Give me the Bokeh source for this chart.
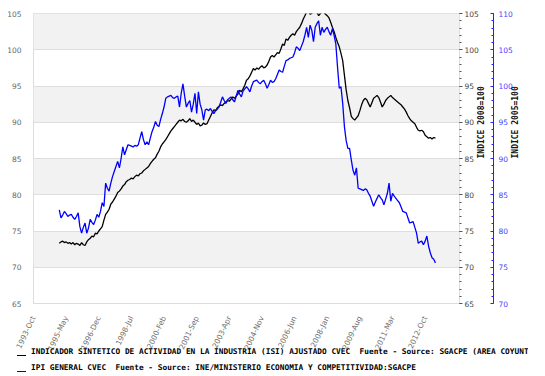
import math
import html
import pandas as pd
from bokeh.plotting import figure
from bokeh.layouts import column
from bokeh.models import (Range1d, LinearAxis, FixedTicker, SingleIntervalTicker,
                          ColumnDataSource, Div)
from bokeh.embed import file_html
from bokeh.resources import INLINE

# ---------------- data ----------------
axis_origin = "1993-10"
data_start = "1995-01"

tick_labels = ["1993-Oct", "1995-May", "1996-Dec", "1998-Jul", "2000-Feb", "2001-Sep",
               "2003-Apr", "2004-Nov", "2006-Jun", "2008-Jan", "2009-Aug", "2011-Mar",
               "2012-Oct"]

isi = [
    73.3, 73.5, 73.6, 73.4, 73.5, 73.3, 73.4, 73.2, 73.4, 73.1, 73.3, 73.2,
    73.0, 73.4, 73.1, 73.0, 73.5, 73.8, 74.0, 74.3, 74.2, 74.7, 74.6, 75.0,
    75.3, 75.6, 76.5, 77.3, 77.6, 78.0, 78.7, 79.0, 79.4, 79.8, 80.3, 80.5,
    80.8, 81.2, 81.4, 81.8, 82.0, 82.1, 82.3, 82.2, 82.5, 82.7, 82.6, 82.9,
    83.0, 83.3, 83.5, 83.7, 83.9, 84.3, 84.6, 84.9, 85.1, 85.6, 86.0, 86.6,
    87.0, 87.3, 87.6, 88.0, 88.4, 88.8, 89.1, 89.4, 89.7, 90.0, 90.3, 90.2,
    90.4, 90.1, 90.0, 90.2, 90.5, 90.1, 90.3, 90.0, 89.7, 89.9, 89.5, 89.6,
    89.9, 89.7, 89.8, 90.3, 90.8, 91.3, 91.7, 91.6, 92.0, 92.2, 92.4, 92.3,
    92.6, 92.8, 93.0, 92.9, 93.2, 93.5, 93.3, 93.6, 93.9, 94.4, 94.2, 94.6,
    95.1, 95.8, 96.0, 96.4, 96.9, 97.4, 97.2, 97.5, 97.3, 97.6, 97.8, 97.5,
    97.6, 97.9, 98.4, 99.0, 99.2, 99.0, 99.3, 99.6, 99.5, 100.1, 100.8, 100.6,
    101.5, 101.3, 101.7, 102.0, 102.2, 102.0, 102.5, 102.8, 103.1, 103.6, 104.2, 104.7,
    105.2, 105.6, 104.9, 105.0, 105.7, 106.1, 105.2, 104.7, 105.0, 105.3, 105.2, 104.9,
    104.7, 104.4, 103.8, 103.1, 102.5, 101.7, 101.0, 100.4, 99.5, 98.5, 96.5, 94.5,
    93.0, 92.0, 90.8, 90.5, 90.3, 90.6, 90.9, 91.6, 92.4, 93.0, 93.3, 93.1,
    92.6, 92.1, 92.7, 93.3, 93.5, 93.7, 93.4, 92.8, 92.1, 92.5, 93.0, 93.3,
    93.5, 93.7, 93.4, 93.2, 93.0, 92.8, 92.6, 92.4, 92.1, 91.8, 91.4, 90.9,
    90.5, 90.2, 90.0, 89.8, 89.3, 88.9, 88.8, 88.9, 88.7, 88.2, 88.0, 87.8,
    87.9, 87.7, 87.9, 87.8,
]

ipi = [
    82.9, 81.8, 82.2, 82.7, 82.4, 82.0, 82.2, 82.3, 81.9, 81.6, 82.0, 82.5,
    80.6, 79.7, 80.5, 81.1, 79.7, 80.4, 81.6, 81.2, 80.9, 81.5, 82.3, 81.9,
    82.7, 83.9, 83.4, 86.6, 85.9, 85.5, 86.6, 87.5, 88.2, 88.9, 89.6, 88.7,
    90.0, 91.6, 90.5, 91.2, 91.9, 91.8, 91.7, 91.6, 91.8, 91.7, 91.9, 92.8,
    93.7, 92.6, 91.9, 92.3, 91.9, 92.8, 93.7, 94.3, 95.1, 94.6, 94.4, 95.4,
    96.2, 97.1, 98.3, 98.5, 98.6, 98.7, 98.4, 98.3, 98.5, 98.6, 97.1, 99.0,
    100.3, 98.6, 97.1, 97.6, 98.0, 96.4, 97.5, 99.0, 96.2, 99.2, 97.5, 96.7,
    95.3, 96.7, 96.8, 96.6, 96.9, 96.5, 96.2, 96.6, 96.8, 97.1, 97.8, 98.5,
    98.0, 97.6, 98.1, 98.3, 98.5, 98.1, 97.8, 98.6, 99.4, 98.9, 98.5, 99.3,
    99.6, 99.9, 99.6, 99.2, 100.0, 100.6, 100.7, 100.8, 100.5, 100.3, 100.6, 100.8,
    100.3, 99.7, 100.2, 100.8, 100.5, 100.6, 101.0, 101.6, 102.2, 102.0, 101.9, 102.7,
    103.5, 103.6, 103.8, 103.9, 104.0, 104.6, 105.4, 105.2, 104.9, 105.5, 106.1, 107.0,
    108.1, 106.7, 108.4, 107.7, 106.1, 108.1, 108.6, 109.0, 107.0, 108.1, 107.4, 107.8,
    108.1, 107.5, 107.0, 107.9, 107.0, 105.8, 102.6, 99.7, 99.9, 97.6, 94.4, 92.5,
    91.4, 91.4, 89.8, 88.4, 87.7, 88.7, 85.9, 85.8, 85.7, 85.6, 85.8, 85.7,
    85.2, 84.8, 84.1, 83.4, 84.0, 84.5, 85.0, 84.6, 84.3, 83.6, 84.4, 85.2,
    86.6, 84.1, 85.2, 84.8, 84.5, 84.2, 83.9, 83.3, 82.7, 82.6, 82.5, 81.8,
    81.1, 81.2, 81.3, 80.5, 79.7, 78.3, 78.5, 78.6, 78.1, 78.6, 79.3, 77.9,
    77.0, 76.3, 76.1, 75.6,
]

label_isi = ("INDICADOR SINTETICO DE ACTIVIDAD EN LA INDUSTRIA (ISI) AJUSTADO CVEC  "
             "Fuente - Source: SGACPE (AREA COYUNTURA)")
label_ipi = ("IPI GENERAL CVEC  Fuente - Source: INE/MINISTERIO ECONOMIA Y "
             "COMPETITIVIDAD:SGACPE")

# ---------------- derived positions (months since axis origin) ----------------
origin = pd.Period(axis_origin, freq="M")
months = pd.period_range(data_start, periods=len(isi), freq="M")
xs = [(m - origin).n for m in months]
tick_pos = [(pd.Period(pd.to_datetime(t, format="%Y-%b"), freq="M") - origin).n
            for t in tick_labels]

src = ColumnDataSource(dict(x=xs, isi=isi, ipi=ipi))

FONT = "DejaVu Sans"
MONO = "DejaVu Sans Mono"
ISI_COLOR = "#000000"
IPI_COLOR = "#0000ff"

p = figure(width=545, height=357, output_backend="svg", toolbar_location=None,
           x_range=Range1d(0, 248), y_range=Range1d(65, 105),
           min_border_left=33, min_border_right=86, min_border_top=13,
           min_border_bottom=40, background_fill_color="white",
           border_fill_color="white")
p.outline_line_color = "#dcdcdc"
p.extra_y_ranges = {"ipi": Range1d(70, 110)}

# grid
p.xgrid.grid_line_color = None
p.ygrid.ticker = SingleIntervalTicker(interval=5)
p.ygrid.grid_line_color = "#dedede"
p.ygrid.band_fill_color = "#f2f2f2"
p.ygrid.band_fill_alpha = 1.0

# left axis
la = p.yaxis[0]
la.ticker = SingleIntervalTicker(interval=5)
la.axis_line_color = None
la.major_tick_line_color = None
la.minor_tick_line_color = None
la.major_label_text_font = FONT
la.major_label_text_font_size = "7.5px"
la.major_label_text_color = "#666666"
la.major_label_standoff = 6

# bottom axis
xa = p.xaxis[0]
xa.ticker = FixedTicker(ticks=tick_pos)
xa.major_label_overrides = {t: l for t, l in zip(tick_pos, tick_labels)}
xa.major_label_orientation = 1.13
xa.axis_line_color = None
xa.major_tick_line_color = None
xa.minor_tick_line_color = None
xa.major_label_text_font = FONT
xa.major_label_text_font_size = "7.5px"
xa.major_label_text_color = "#707070"
xa.major_label_standoff = 7

# right axis 1 (ISI)
ra = LinearAxis(ticker=SingleIntervalTicker(interval=5, num_minor_ticks=5),
                axis_label="INDICE 2008=100")
ra.axis_line_color = None
ra.major_tick_out = 3
ra.major_tick_in = 0
ra.minor_tick_out = 2
ra.minor_tick_in = 0
ra.major_tick_line_color = "#555555"
ra.minor_tick_line_color = "#555555"
ra.major_label_text_font = FONT
ra.major_label_text_font_size = "7.5px"
ra.major_label_text_color = "#444444"
ra.major_label_standoff = 2
ra.axis_label_text_font = MONO
ra.axis_label_text_font_style = "bold"
ra.axis_label_text_font_size = "8px"
ra.axis_label_text_color = "#111111"
ra.axis_label_standoff = 0
ra.axis_label_orientation = math.pi / 2
p.add_layout(ra, "right")

# right axis 2 (IPI)
ba = LinearAxis(y_range_name="ipi",
                ticker=SingleIntervalTicker(interval=5, num_minor_ticks=5),
                axis_label="INDICE 2005=100")
ba.axis_line_color = "#2222ff"
ba.major_tick_out = 0
ba.major_tick_in = 3
ba.minor_tick_out = 0
ba.minor_tick_in = 2
ba.major_tick_line_color = "#2222ff"
ba.minor_tick_line_color = "#2222ff"
ba.major_label_text_font = FONT
ba.major_label_text_font_size = "7.5px"
ba.major_label_text_color = "#4444ff"
ba.major_label_standoff = 5
ba.axis_label_text_font = MONO
ba.axis_label_text_font_style = "bold"
ba.axis_label_text_font_size = "8px"
ba.axis_label_text_color = "#111111"
ba.axis_label_standoff = 0
ba.axis_label_orientation = math.pi / 2
p.add_layout(ba, "right")

p.line("x", "isi", source=src, line_color=ISI_COLOR, line_width=1.3)
p.line("x", "ipi", source=src, y_range_name="ipi", line_color=IPI_COLOR,
       line_width=1.3)

# ---------------- legend strip (HTML text) ----------------
def legend_row(color, text):
    return ('<div style="height:16px;line-height:16px;">'
            f'<span style="display:inline-block;width:9px;height:0;'
            f'border-top:1.5px solid {color};vertical-align:-2px;'
            'margin-right:5px;"></span>'
            f'{html.escape(text)}</div>')

legend_html = (
    f'<div style="font-family:\'{MONO}\';font-weight:bold;font-size:7.8px;'
    'white-space:pre;color:#000;margin:-13px 0 0 0;padding:0 0 0 17px;'
    'width:528px;overflow:hidden;">'
    + legend_row(ISI_COLOR, label_isi)
    + legend_row(IPI_COLOR, label_ipi)
    + '</div>'
)
legend_div = Div(text=legend_html, width=545, height=19,
                 styles={"overflow": "visible", "margin": "0", "padding": "0"})

layout = column(p, legend_div, spacing=0)
open("out.html", "w").write(file_html(layout, INLINE))
